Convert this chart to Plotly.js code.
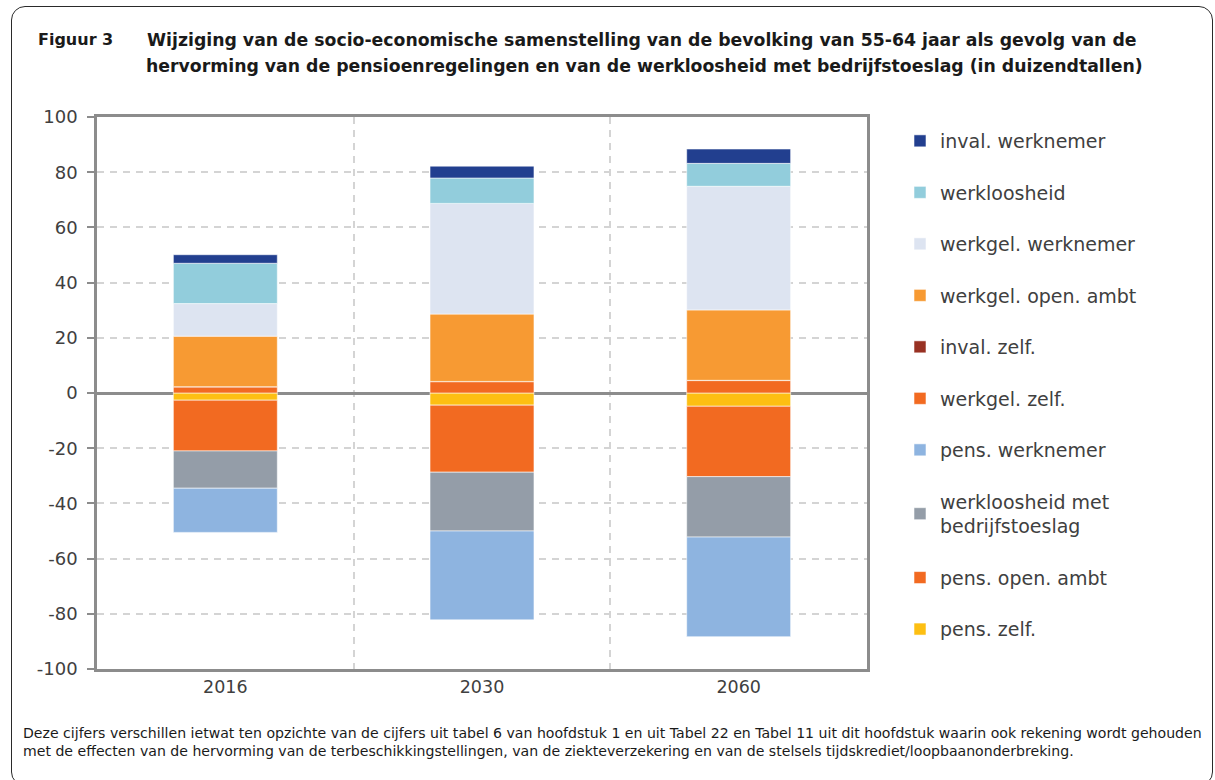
<!DOCTYPE html>
<html>
<head>
<meta charset="utf-8">
<script src="https://cdn.plot.ly/plotly-3.0.1.min.js"></script>
<style>
  html, body { margin: 0; padding: 0; background: #ffffff; overflow: hidden; }
  #chart { width: 1215px; height: 780px; position: relative; }
  #frame { position: absolute; left: 11px; top: 6px; width: 1202px; height: 780px;
           border: 1.3px solid #2a2a2a; border-radius: 14px; pointer-events: none; box-sizing: border-box; }
</style>
</head>
<body>
<div id="chart"></div>
<div id="frame"></div>
<script>
// Categories (years)
const years = ["2016", "2030", "2060"];

// Series values (in duizendtallen)
const invalWerknemer   = [3.1, 4.3, 5.2];
const werkloosheid     = [14.6, 9.2, 8.3];
const werkgelWerknemer = [11.8, 40.1, 44.8];
const werkgelOpenAmbt  = [18.3, 24.4, 25.5];
const invalZelf        = [0.1, 0.1, 0.1];
const werkgelZelf      = [2.2, 4.1, 4.5];
const pensWerknemer    = [-16.0, -32.2, -36.1];
const werklBedrijfst   = [-13.5, -21.3, -21.9];
const pensOpenAmbt     = [-18.4, -24.3, -25.5];
const pensZelf         = [-2.6, -4.4, -4.8];

// Series names (legend labels)
const names = {
  invalWerknemer: "inval. werknemer",
  werkloosheid: "werkloosheid",
  werkgelWerknemer: "werkgel. werknemer",
  werkgelOpenAmbt: "werkgel. open. ambt",
  invalZelf: "inval. zelf.",
  werkgelZelf: "werkgel. zelf.",
  pensWerknemer: "pens. werknemer",
  werklBedrijfst: "werkloosheid met<br>bedrijfstoeslag",
  pensOpenAmbt: "pens. open. ambt",
  pensZelf: "pens. zelf."
};

const yTickVals = [-100, -80, -60, -40, -20, 0, 20, 40, 60, 80, 100];

const titleLine1 = "Wijziging van de socio-economische samenstelling van de bevolking van 55-64 jaar als gevolg van de";
const titleLine2 = "hervorming van de pensioenregelingen en van de werkloosheid met bedrijfstoeslag (in duizendtallen)";
const figLabel = "Figuur 3";
const footnote = "Deze cijfers verschillen ietwat ten opzichte van de cijfers uit tabel 6 van hoofdstuk 1 en uit Tabel 22 en Tabel 11 uit dit hoofdstuk waarin ook rekening wordt gehouden<br>met de effecten van de hervorming van de terbeschikkingstellingen, van de ziekteverzekering en van de stelsels tijdskrediet/loopbaanonderbreking.";

// Trace order: closest-to-zero first (stacking), legend shown reversed
const series = [
  ["pensZelf", pensZelf, "#FDBF12"],
  ["pensOpenAmbt", pensOpenAmbt, "#F26A21"],
  ["werklBedrijfst", werklBedrijfst, "#949DA8"],
  ["pensWerknemer", pensWerknemer, "#8EB4E0"],
  ["werkgelZelf", werkgelZelf, "#F26A21"],
  ["invalZelf", invalZelf, "#983123"],
  ["werkgelOpenAmbt", werkgelOpenAmbt, "#F79A33"],
  ["werkgelWerknemer", werkgelWerknemer, "#DDE4F1"],
  ["werkloosheid", werkloosheid, "#92CDDC"],
  ["invalWerknemer", invalWerknemer, "#223F8F"]
];

const traces = series.map(([key, vals, color], i) => ({
  type: "bar",
  x: years,
  y: vals,
  name: names[key],
  legendgroup: key,
  legendrank: series.length - i,
  marker: { color: color, line: { color: "rgba(255,255,255,0.55)", width: 1 } },
  hoverinfo: "x+y+name"
}));

const W = 1215, H = 780;
const L = 97, R = 348, T = 117, B = 111;
const pw = W - L - R, ph = H - T - B;
const px2x = p => (p - L) / pw;
const py2y = p => 1 + (T - p) / ph;

const titleFont = { family: "DejaVu Sans, sans-serif", size: 17.3, color: "#1a1a1a", weight: "bold" };

const layout = {
  width: W, height: H,
  margin: { l: L, r: R, t: T, b: B, pad: 0 },
  paper_bgcolor: "#ffffff",
  plot_bgcolor: "#ffffff",
  barmode: "relative",
  bargap: 0.595,
  font: { family: "DejaVu Sans, sans-serif", color: "#404040" },
  title: {
    text: titleLine1,
    font: titleFont,
    xref: "container", yref: "container",
    x: 147 / W, xanchor: "left",
    y: 1 - 40 / H, yanchor: "middle"
  },
  xaxis: {
    type: "category",
    tickson: "boundaries",
    showgrid: true,
    gridcolor: "#d4d4d4",
    gridwidth: 1.5,
    griddash: "7px,6px",
    ticks: "",
    showline: true,
    mirror: true,
    linecolor: "#8c8c8c",
    linewidth: 2.5,
    tickfont: { size: 17.5, color: "#404040" },
    zeroline: false
  },
  yaxis: {
    range: [-100, 100],
    tickvals: yTickVals,
    ticktext: yTickVals.map(String),
    showgrid: true,
    gridcolor: "#d4d4d4",
    gridwidth: 1.5,
    griddash: "7px,6px",
    zeroline: true,
    zerolinecolor: "#8c8c8c",
    zerolinewidth: 3,
    showline: true,
    mirror: true,
    linecolor: "#8c8c8c",
    linewidth: 2.5,
    ticks: "outside",
    ticklen: 7,
    tickwidth: 2,
    tickcolor: "#8c8c8c",
    ticklabelstandoff: 6,
    tickfont: { size: 18, color: "#404040" },
    fixedrange: true
  },
  showlegend: true,
  legend: {
    x: px2x(900), xanchor: "left",
    y: py2y(122), yanchor: "top",
    traceorder: "grouped",
    tracegroupgap: 23.8,
    font: { size: 19, color: "#404040" },
    bgcolor: "rgba(0,0,0,0)",
    borderwidth: 0
  },
  annotations: [
    {
      text: "<b>" + titleLine2 + "</b>",
      xref: "paper", yref: "paper",
      x: px2x(144), xanchor: "left",
      y: py2y(66), yanchor: "middle",
      showarrow: false,
      font: { family: "DejaVu Sans, sans-serif", size: 17.3, color: "#1a1a1a" }
    },
    {
      text: "<b>" + figLabel + "</b>",
      xref: "paper", yref: "paper",
      x: px2x(36), xanchor: "left",
      y: py2y(40), yanchor: "middle",
      showarrow: false,
      font: { family: "DejaVu Sans, sans-serif", size: 16, color: "#1a1a1a" }
    },
    {
      text: footnote,
      xref: "paper", yref: "paper",
      x: px2x(21), xanchor: "left",
      y: py2y(723), yanchor: "top",
      align: "left",
      showarrow: false,
      font: { family: "DejaVu Sans, sans-serif", size: 14.1, color: "#1a1a1a" }
    }
  ]
};

Plotly.newPlot("chart", traces, layout, { displayModeBar: false, staticPlot: false });
</script>
</body>
</html>
